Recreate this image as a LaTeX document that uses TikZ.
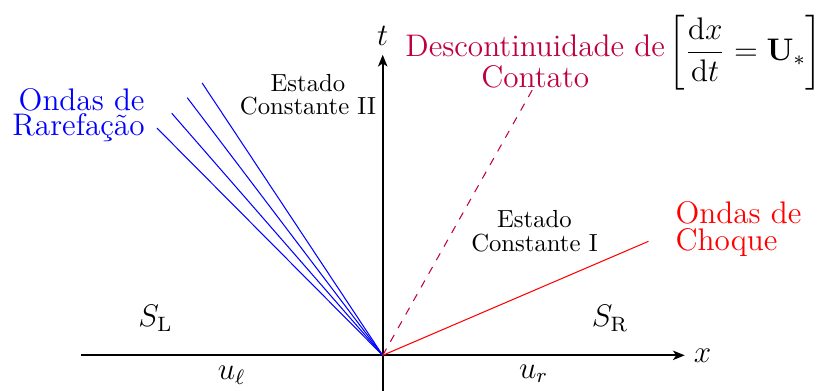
\documentclass[tikz,border=0pt]{standalone}
\usepackage{amsmath}
\usetikzlibrary{arrows.meta}
\tikzset{
    rotulo/.style = {inner sep = 0pt, font = \large},
    estado/.style = {inner sep = 0pt, align = center, font = \fontsize{9.5}{11.5}\selectfont},
    eixo/.style = {thick, -{Stealth[length = 4.5pt, width = 3.6pt, inset = 1.2pt]}}
}
\begin{document}
\begin{tikzpicture}
        \useasboundingbox (-5.17, -0.48) rectangle (5.88, 4.80);
        \coordinate (O) at (0, 0);
        \coordinate (xmin) at (-4.08, 0);
        \coordinate (xmax) at (4.08, 0);
        \coordinate (tmin) at (0, -0.48);
        \coordinate (tmax) at (0, 4.06);
        \draw[eixo] (xmin) -- (xmax);
        \draw[eixo] (tmin) -- (tmax);
        \node[right, font = \large] (rotx) at (xmax) {$x$};
        \node[above, font = \large] (rott) at (tmax) {$t$};
        \foreach \x/\y in {-3.05/3.07, -2.85/3.27, -2.64/3.48, -2.44/3.68}{
            \draw[blue] (O) -- (\x, \y);
        }
        \coordinate (contato) at (2.04, 3.62);
        \coordinate (choque) at (3.59, 1.54);
        \draw[purple, dashed] (O) -- (contato);
        \draw[red] (O) -- (choque);
        \node[rotulo, blue, align = right, anchor = east] (rarefacao) at (-3.21, 3.24) {Ondas de\\[-4.4pt]Rarefação};
        \node[rotulo, red, align = left, anchor = west] (ondachoque) at (3.95, 1.71) {Ondas de\\[-3.6pt]Choque};
        \node[rotulo, purple, align = center] (descont) at (2.06, 3.97) {Descontinuidade de\\[-2.2pt]Contato};
        \node[rotulo] (velocidade) at (4.90, 4.09) {$\displaystyle\left[\frac{\mathrm{d}x}{\mathrm{d}t} = \mathbf{U}_*\right]$};
        \node[estado] (estadoII) at (-1.01, 3.52) {Estado\\[-2.4pt]Constante II};
        \node[estado] (estadoI) at (2.05, 1.68) {Estado\\[-2.4pt]Constante I};
        \node[rotulo] (SL) at (-3.07, 0.50) {$S_{\mathrm{L}}$};
        \node[rotulo] (SR) at (3.07, 0.50) {$S_{\mathrm{R}}$};
        \node[rotulo] (ul) at (-2.04, -0.27) {$u_\ell$};
        \node[rotulo] (ur) at (2.04, -0.25) {$u_r$};
    \end{tikzpicture}
\end{document}
